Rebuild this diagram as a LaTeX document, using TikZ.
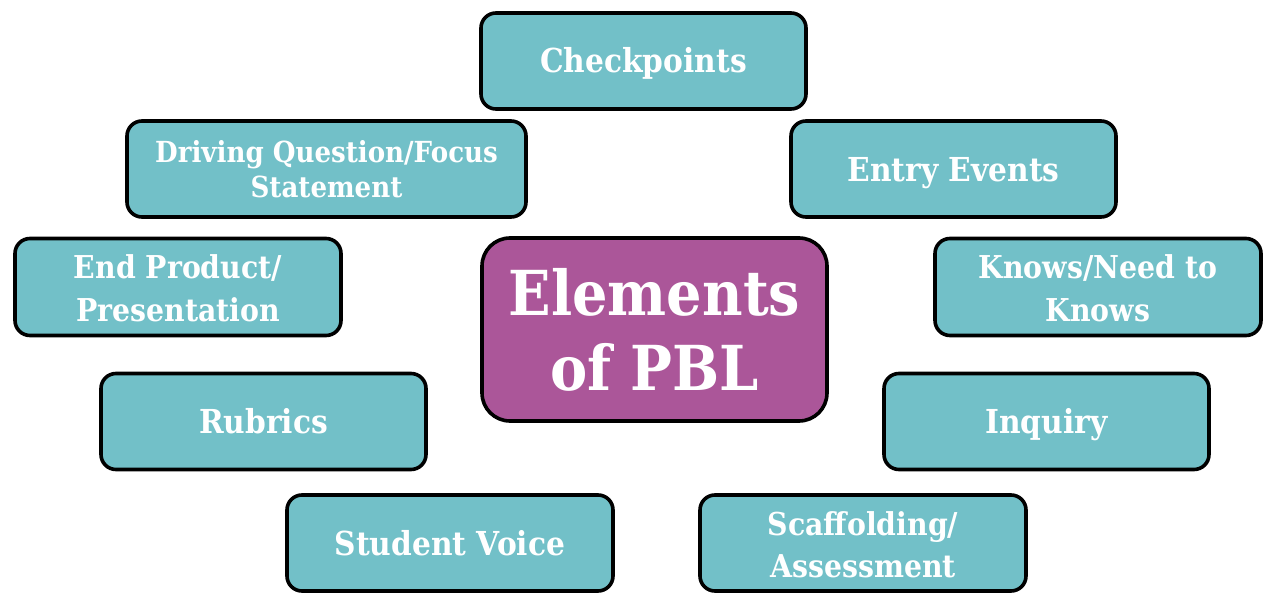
\documentclass[tikz,border=0pt]{standalone}
\usepackage{fontspec}
\setmainfont{DejaVu Serif}[FakeStretch=0.9]
\definecolor{teal1}{HTML}{72C0C8}
\definecolor{purp1}{HTML}{AB5699}
\tikzset{
  elbox/.style={draw=black, line width=3.6pt, fill=teal1, rounded corners=15pt,
    minimum width=#1, minimum height=96pt, inner sep=0pt, outer sep=0pt},
  elbox/.default=325pt,
  centbox/.style={draw=black, line width=3.6pt, fill=purp1, rounded corners=28pt,
    minimum width=345pt, minimum height=183pt, inner sep=0pt},
  lblA/.style={anchor=base, text=white, inner sep=0pt, font=\bfseries\fontsize{33}{40}\selectfont},
  lblB/.style={anchor=base, text=white, inner sep=0pt, font=\bfseries\fontsize{31.5}{40}\selectfont},
  lblC/.style={anchor=base, text=white, inner sep=0pt, font=\bfseries\fontsize{29}{35}\selectfont},
  lblD/.style={anchor=base, text=white, inner sep=0pt, font=\bfseries\fontsize{62}{75}\selectfont},
}
\begin{document}
\begin{tikzpicture}[x=1pt,y=-1pt]
\useasboundingbox[fill=white] (0,0) rectangle (1277,604);
% boxes
\node[elbox] (check) at (643.5,61) {};
\node[elbox=399pt] (drive) at (326.5,169) {};
\node[elbox] (entry) at (953.5,169) {};
\node[elbox=326pt, minimum height=97pt] (endp) at (178,287) {};
\node[elbox=326pt, minimum height=97pt] (knows) at (1098,287) {};
\node[centbox] (pbl) at (654.5,329.5) {};
\node[elbox] (rubr) at (263.5,421.5) {};
\node[elbox] (inq) at (1046.5,421.5) {};
\node[elbox=326pt] (voice) at (450,543) {};
\node[elbox=326pt] (scaf) at (863,543) {};
% labels
\node[lblA] (check-t) at ([yshift=-12pt]check.center) {Checkpoints};
\node[lblC] (drive-t1) at ([yshift=6pt]drive.center) {Driving Question/Focus};
\node[lblC] (drive-t2) at ([yshift=-29pt]drive.center) {Statement};
\node[lblA] (entry-t) at ([yshift=-13pt]entry.center) {Entry Events};
\node[lblB] (endp-t1) at ([yshift=9pt]endp.center) {End Product/};
\node[lblB] (endp-t2) at ([yshift=-34pt]endp.center) {Presentation};
\node[lblB] (knows-t1) at ([yshift=9pt]knows.center) {Knows/Need to};
\node[lblB] (knows-t2) at ([yshift=-34pt]knows.center) {Knows};
\node[lblD] (pbl-t1) at ([yshift=14.5pt]pbl.center) {Elements};
\node[lblD] (pbl-t2) at ([yshift=-60.5pt]pbl.center) {of PBL};
\node[lblA] (rubr-t) at ([yshift=-12pt]rubr.center) {Rubrics};
\node[lblA] (inq-t) at ([yshift=-12pt]inq.center) {Inquiry};
\node[lblA] (voice-t) at ([yshift=-12pt]voice.center) {Student Voice};
\node[lblB] (scaf-t1) at ([yshift=8pt]scaf.center) {Scaffolding/};
\node[lblB] (scaf-t2) at ([yshift=-34pt]scaf.center) {Assessment};
\end{tikzpicture}
\end{document}
